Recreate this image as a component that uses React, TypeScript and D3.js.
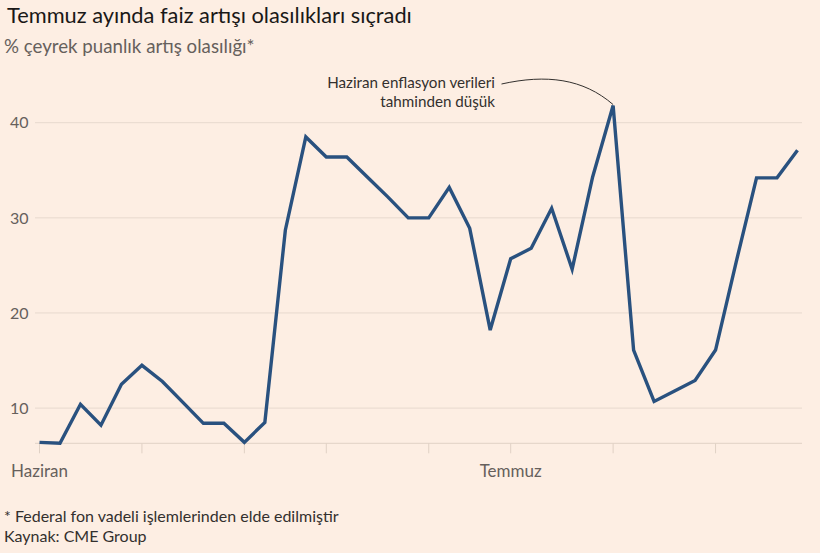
import React, { useEffect, useRef } from 'react';
import * as d3 from 'd3';

// Trading-day observations, June → July
const probabilities = [
  6.4, 6.3, 10.4, 8.2, 12.5, 14.5, 12.8, 10.6, 8.4, 8.4,
  6.4, 8.5, 28.7, 38.5, 36.4, 36.4, 34.3, 32.2, 30.0, 30.0,
  33.2, 28.9, 18.2, 25.7, 26.8, 31.0, 24.6, 34.3, 41.8, 16.1,
  10.7, 11.8, 12.9, 16.1, 25.3, 34.2, 34.2, 37.1,
];
const weekTicks = [0, 5, 10, 14, 19, 23, 28, 33];
const monthLabels = [
  { index: 0, label: 'Haziran' },
  { index: 23, label: 'Temmuz' },
];
const yTicks = [10, 20, 30, 40];
const peakIndex = 28;

const WIDTH = 820;
const HEIGHT = 553;
const BG = '#fdeee3';
const INK = '#33302e';
const INK_SOFT = '#66605c';
const GRID = '#e7d9ce';
const LINE = '#29517f';
const FONT = 'Lato, "Open Sans", sans-serif';

const App: React.FC = () => {
  const svgRef = useRef<SVGSVGElement>(null);

  useEffect(() => {
    document.body.style.margin = '0';
    document.body.style.background = BG;
    if (!svgRef.current) return;
    const svg = d3.select(svgRef.current);
    svg.selectAll('*').remove();

    const x = d3.scaleLinear().domain([0, probabilities.length - 1]).range([39.5, 797.5]);
    const y = d3.scaleLinear().domain([6.3, 40]).range([443.3, 122.7]);
    const gridLeft = 35;
    const gridRight = 802;

    svg.append('rect').attr('width', WIDTH).attr('height', HEIGHT).attr('fill', BG);

    // gridlines + labels
    svg
      .selectAll('.grid')
      .data(yTicks)
      .enter()
      .append('line')
      .attr('x1', gridLeft)
      .attr('x2', gridRight)
      .attr('y1', d => y(d))
      .attr('y2', d => y(d))
      .attr('stroke', GRID)
      .attr('stroke-width', 1);

    svg
      .selectAll('.ylabel')
      .data(yTicks)
      .enter()
      .append('text')
      .attr('x', 10)
      .attr('y', d => y(d))
      .attr('dy', '0.36em')
      .style('font-family', FONT)
      .style('font-size', '16px')
      .style('fill', INK_SOFT)
      .text(d => d);

    // baseline and week ticks
    svg
      .append('line')
      .attr('x1', gridLeft)
      .attr('x2', gridRight)
      .attr('y1', y(6.3))
      .attr('y2', y(6.3))
      .attr('stroke', '#e0d1c5')
      .attr('stroke-width', 1);

    svg
      .selectAll('.tick')
      .data(weekTicks)
      .enter()
      .append('line')
      .attr('x1', d => x(d))
      .attr('x2', d => x(d))
      .attr('y1', y(6.3))
      .attr('y2', y(6.3) + 10)
      .attr('stroke', '#e0d1c5')
      .attr('stroke-width', 1);

    svg
      .selectAll('.xlabel')
      .data(monthLabels)
      .enter()
      .append('text')
      .attr('x', d => x(d.index))
      .attr('y', 477.3)
      .attr('text-anchor', 'middle')
      .style('font-family', FONT)
      .style('font-size', '17px')
      .style('fill', INK_SOFT)
      .text(d => d.label);

    // the series
    const line = d3
      .line<number>()
      .x((_d, i) => x(i))
      .y(d => y(d));

    svg
      .append('path')
      .datum(probabilities)
      .attr('d', line)
      .attr('fill', 'none')
      .attr('stroke', LINE)
      .attr('stroke-width', 3.4)
      .attr('stroke-linejoin', 'miter');

    // annotation on the CPI peak
    const px = x(peakIndex);
    const py = y(probabilities[peakIndex]) - 1;
    const sx = 501.5;
    const sy = 84;
    svg
      .append('path')
      .attr('d', `M${sx},${sy} C${sx + 45},${sy - 10} ${px - 30},${py - 26} ${px},${py}`)
      .attr('fill', 'none')
      .attr('stroke', INK)
      .attr('stroke-width', 1);

    const note = svg
      .append('text')
      .attr('text-anchor', 'end')
      .style('font-family', FONT)
      .style('font-size', '15.2px')
      .style('fill', INK);
    note.append('tspan').attr('x', 495).attr('y', 88.3).text('Haziran enflasyon verileri');
    note.append('tspan').attr('x', 495).attr('y', 106.7).text('tahminden düşük');

    // headings
    svg
      .append('text')
      .attr('x', 7)
      .attr('y', 22.7)
      .style('font-family', FONT)
      .style('font-size', '21.8px')
      .style('fill', '#1a1817')
      .text('Temmuz ayında faiz artışı olasılıkları sıçradı');

    svg
      .append('text')
      .attr('x', 4)
      .attr('y', 53.3)
      .style('font-family', FONT)
      .style('font-size', '18.7px')
      .style('fill', INK_SOFT)
      .text('% çeyrek puanlık artış olasılığı*');

    // footer
    svg
      .append('text')
      .attr('x', 4)
      .attr('y', 521.7)
      .style('font-family', FONT)
      .style('font-size', '16px')
      .style('fill', INK)
      .text('* Federal fon vadeli işlemlerinden elde edilmiştir');

    svg
      .append('text')
      .attr('x', 4)
      .attr('y', 541.7)
      .style('font-family', FONT)
      .style('font-size', '16px')
      .style('fill', INK)
      .text('Kaynak: CME Group');
  }, []);

  return <svg ref={svgRef} width={WIDTH} height={HEIGHT} style={{ display: 'block' }} />;
};

export default App;
